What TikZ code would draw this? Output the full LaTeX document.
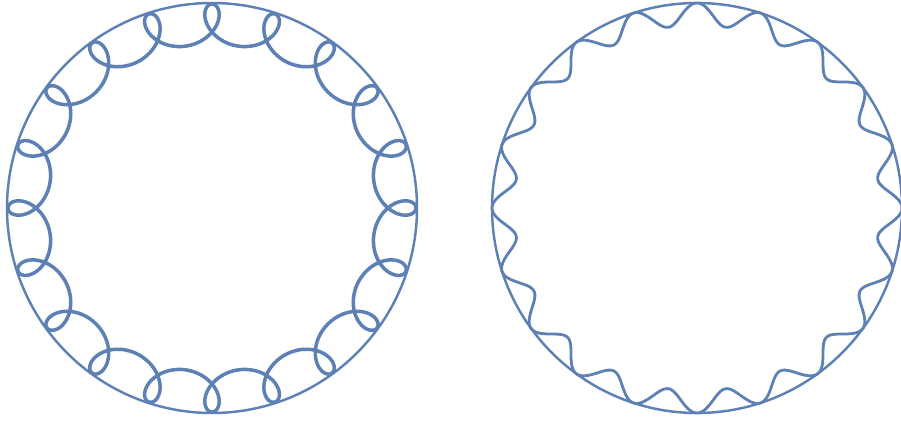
\documentclass[tikz,border=0pt]{standalone}
\usepackage{tikz}
\usepackage{xcolor}
\definecolor{plotblue}{RGB}{94,129,181}

\begin{document}
\begin{tikzpicture}[x=0.02cm, y=0.02cm,
  rim/.style={draw=plotblue, line width=1.4pt},
  trace/.style={draw=plotblue, line width=2pt, line join=round}]
  \useasboundingbox (0,0) rectangle (901,422);
  \def\n{20}
  \coordinate (cl) at (212,214);
  \coordinate (cr) at (697,214);
  \draw[rim] (cl) circle[radius=205];
  \draw[rim] (cr) circle[radius=205];
  \draw[trace, shift={(cl)}] plot[domain=0:360, samples=1441, smooth, variable=\t]
    ({184*cos(\t)+20*cos((\n-1)*\t)}, {184*sin(\t)-20*sin((\n-1)*\t)}) -- cycle;
  \draw[trace, line width=1.6pt, shift={(cr)}] plot[domain=0:360, samples=1441, smooth, variable=\t]
    ({(194+11*cos(\n*\t))*cos(\t)}, {(194+11*cos(\n*\t))*sin(\t)}) -- cycle;
\end{tikzpicture}
\end{document}
